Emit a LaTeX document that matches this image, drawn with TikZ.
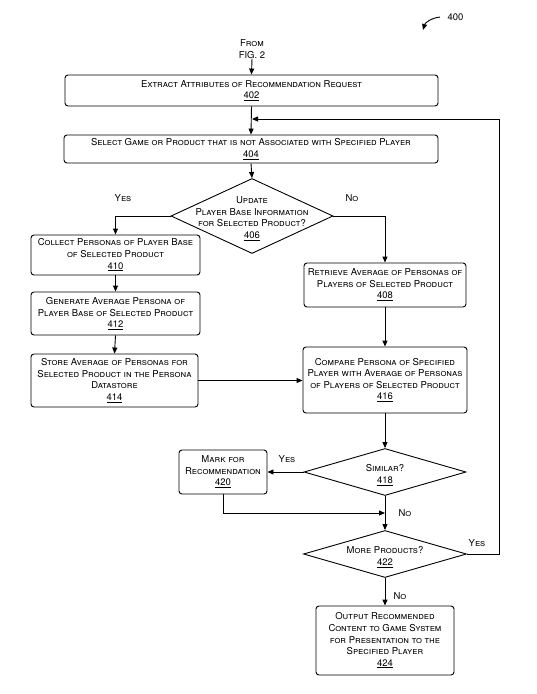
\documentclass[tikz,border=0pt]{standalone}
\usepackage{fontspec}
\setmainfont{TeX Gyre Heros}
\usetikzlibrary{shapes.geometric,arrows.meta}
\newcommand\nm[1]{\underline{#1}}
\begin{document}
\begin{tikzpicture}[x=1pt,y=-1pt,
 base/.style={font=\fontsize{9.5}{11.6}\selectfont\scshape, align=center, inner sep=0pt},
 box/.style={base, draw, rounded corners=3pt, line width=0.9pt},
 dia/.style={draw, diamond, line width=0.9pt, inner sep=0pt},
 arr/.style={line width=0.9pt, -{Triangle[length=6pt,width=5pt]}},
 ln/.style={line width=0.9pt}]
\useasboundingbox (0,0) rectangle (536,694);
% figure number
\node[font=\fontsize{9.5}{10}\selectfont, anchor=west] (n400) at (444,17) {400};
\coordinate (c400a) at (440,17);
\coordinate (c400b) at (423,30);
\draw[arr] (c400a) .. controls (431,18) and (425,23) .. (c400b);
% from
\node[base] (from) at (252,49) {From\\FIG. 2};
% boxes
\node[box, minimum width=373pt, minimum height=31pt] (b402) at (251.5,90.5) {Extract Attributes of Recommendation Request\\\nm{402}};
\node[box, minimum width=374pt, minimum height=28pt] (b404) at (251,149) {Select Game or Product that is not Associated with Specified Player\\\nm{404}};
\node[dia, minimum width=162pt, minimum height=75pt] (d406) at (252,216) {};
\node[base] (t406) at (252,218.5) {Update\\Player Base Information\\for Selected Product?\\\nm{406}};
\node[box, minimum width=169pt, minimum height=40pt] (b410) at (115.5,255) {Collect Personas of Player Base\\of Selected Product\\\nm{410}};
\node[box, minimum width=169pt, minimum height=43pt] (b412) at (115.5,313.5) {Generate Average Persona of\\Player Base of Selected Product\\\nm{412}};
\node[box, minimum width=167pt, minimum height=53pt] (b414) at (114.5,380.5) {Store Average of Personas for\\Selected Product in the Persona\\Datastore\\\nm{414}};
\node[box, minimum width=162pt, minimum height=44pt] (b408) at (385,285) {Retrieve Average of Personas of\\Players of Selected Product\\\nm{408}};
\node[box, minimum width=164pt, minimum height=66pt] (b416) at (385,380) {Compare Persona of Specified\\Player with Average of Personas\\of Players of Selected Product\\\nm{416}};
\node[dia, minimum width=162pt, minimum height=47pt] (d418) at (385,472) {};
\node[base] (t418) at (385,475) {Similar?\\\nm{418}};
\node[box, minimum width=88pt, minimum height=44pt] (b420) at (223,472) {Mark for\\Recommendation\\\nm{420}};
\node[dia, minimum width=163pt, minimum height=47pt] (d422) at (385,554) {};
\node[base] (t422) at (385,557) {More Products?\\\nm{422}};
\node[box, minimum width=138pt, minimum height=69pt] (b424) at (385,640.5) {Output Recommended\\Content to Game System\\for Presentation to the\\Specified Player\\\nm{424}};
% labels
\node[base] (y406) at (123,198) {Yes};
\node[base] (n406) at (352,198) {No};
\node[base] (y418) at (287,459) {Yes};
\node[base] (n418) at (405,513) {No};
\node[base] (y422) at (477,543) {Yes};
\node[base] (n422) at (400,596) {No};
% coordinates
\coordinate (j1) at (252,119);
\coordinate (j2) at (385,513);
\coordinate (loopc) at (499,119);
% connectors
\draw[arr] (from.south) -- (b402.north);
\draw[arr] (b402.south) -- (b404.north);
\draw[arr] (b404.south) -- (d406.north);
\draw[arr] (d406.west) -| (b410.north);
\draw[arr] (d406.east) -| (b408.north);
\draw[arr] (b410.south) -- (b412.north);
\draw[arr] (b412.south) -- (b414.north);
\draw[arr] (b408.south) -- (b416.north);
\draw[arr] (b414.east) -- (b414.east -| b416.west);
\draw[arr] (b416.south) -- (d418.north);
\draw[arr] (d418.west) -- (b420.east);
\draw[arr] (b420.south) |- (j2);
\draw[arr] (d418.south) -- (d422.north);
\draw[arr] (d422.south) -- (b424.north);
\draw[arr] (d422.east) -| (loopc) -- (j1);
\end{tikzpicture}
\end{document}
